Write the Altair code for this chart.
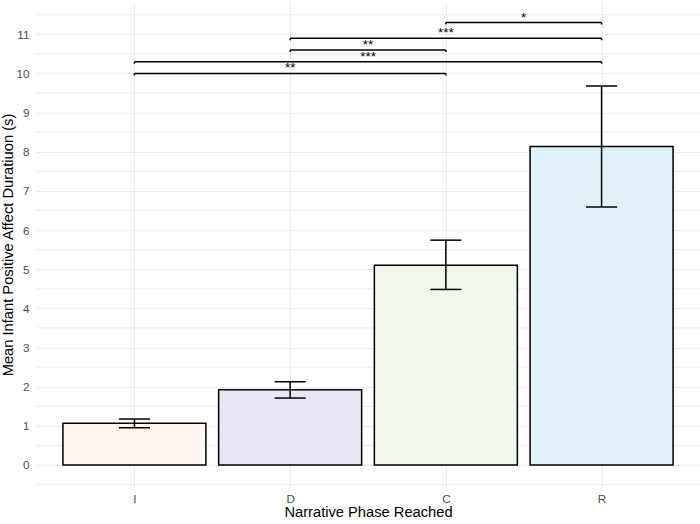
import altair as alt
import pandas as pd

phases = ["I", "D", "C", "R"]
means = [1.064, 1.922, 5.105, 8.134]
lower = [0.952, 1.71, 4.484, 6.59]
upper = [1.174, 2.126, 5.743, 9.68]
fills = ["#FEF5EE", "#E6E6F5", "#F0F8EC", "#E0F3F8"]

br_from = ["I", "I", "D", "D", "C"]
br_to = ["C", "R", "C", "R", "R"]
br_level = [10.0, 10.3, 10.6, 10.9, 11.3]
br_label = ["**", "***", "**", "***", "*"]

y_major = list(range(0, 12))
y_minor = [v + 0.5 for v in range(-1, 12)]

pos = {p: i + 1 for i, p in enumerate(phases)}

bars = pd.DataFrame({
    "phase": phases,
    "idx": [pos[p] for p in phases],
    "mean": means,
    "lo": lower,
    "hi": upper,
})
brk = pd.DataFrame({
    "a": [pos[p] for p in br_from],
    "b": [pos[p] for p in br_to],
    "y": br_level,
    "label": br_label,
})
minor = pd.DataFrame({"v": y_minor})

xscale = alt.Scale(domain=[0.4, 4.6], nice=False, zero=False)
yscale = alt.Scale(domain=[-0.562, 11.826], nice=False, zero=False)

label_expr = "datum.value == 1 ? 'I' : datum.value == 2 ? 'D' : datum.value == 3 ? 'C' : datum.value == 4 ? 'R' : ''"

xax = alt.Axis(values=[1, 2, 3, 4], labelExpr=label_expr, title="Narrative Phase Reached",
               labelPadding=6, titleY=25, titleBaseline="middle", labelAngle=0)
yax = alt.Axis(values=y_major, format="d",
               title="Mean Infant Positive Affect Duratiuon (s)",
               labelPadding=7, titleX=-28, titleBaseline="middle")

minor_grid = alt.Chart(minor).mark_rule(color="#EBEBEB", strokeWidth=1).encode(
    y=alt.Y("v:Q", scale=yscale, axis=yax),
    x=alt.value(0), x2=alt.value(664),
)

base = alt.Chart(bars)

bar = base.mark_bar(size=143, stroke="black", strokeWidth=1.5).encode(
    x=alt.X("idx:Q", scale=xscale, axis=xax),
    y=alt.Y("mean:Q"),
    y2=alt.Y2(datum=0),
    fill=alt.Fill("phase:N", scale=alt.Scale(domain=phases, range=fills), legend=None),
)

err = base.mark_rule(color="black", strokeWidth=1.5).encode(
    x="idx:Q", y="lo:Q", y2="hi:Q"
)
caps_hi = base.transform_calculate(l="datum.idx - 0.1", r="datum.idx + 0.1").mark_rule(
    color="black", strokeWidth=1.5).encode(x="l:Q", x2="r:Q", y="hi:Q")
caps_lo = base.transform_calculate(l="datum.idx - 0.1", r="datum.idx + 0.1").mark_rule(
    color="black", strokeWidth=1.5).encode(x="l:Q", x2="r:Q", y="lo:Q")

bb = alt.Chart(brk)
hline = bb.mark_rule(color="black", strokeWidth=1.5).encode(x="a:Q", x2="b:Q", y="y:Q")
tip_a = bb.transform_calculate(t="datum.y - 0.05").mark_rule(color="black", strokeWidth=1.5).encode(
    x="a:Q", y="y:Q", y2="t:Q")
tip_b = bb.transform_calculate(t="datum.y - 0.05").mark_rule(color="black", strokeWidth=1.5).encode(
    x="b:Q", y="y:Q", y2="t:Q")
txt = bb.transform_calculate(m="(datum.a + datum.b) / 2").mark_text(
    font="Liberation Sans", fontSize=13.5, color="black", baseline="alphabetic", dy=-1
).encode(x="m:Q", y="y:Q", text="label:N")

chart = alt.layer(minor_grid, bar, err, caps_hi, caps_lo, hline, tip_a, tip_b, txt).properties(
    width=664, height=485,
    padding={"left": 36, "top": 2, "right": 0, "bottom": 37},
    autosize=alt.AutoSizeParams(type="none"),
    background="white",
).configure_view(stroke=None).configure_axis(
    domain=False, ticks=False, grid=True, gridColor="#EBEBEB", gridWidth=1,
    labelFont="Liberation Sans", labelFontSize=11.7, labelColor="#4D4D4D",
    titleFont="Liberation Sans", titleFontSize=14.7, titleColor="black", titleFontWeight="normal",
)

chart.save("out.html", embed_options={"renderer": "svg", "actions": False})
